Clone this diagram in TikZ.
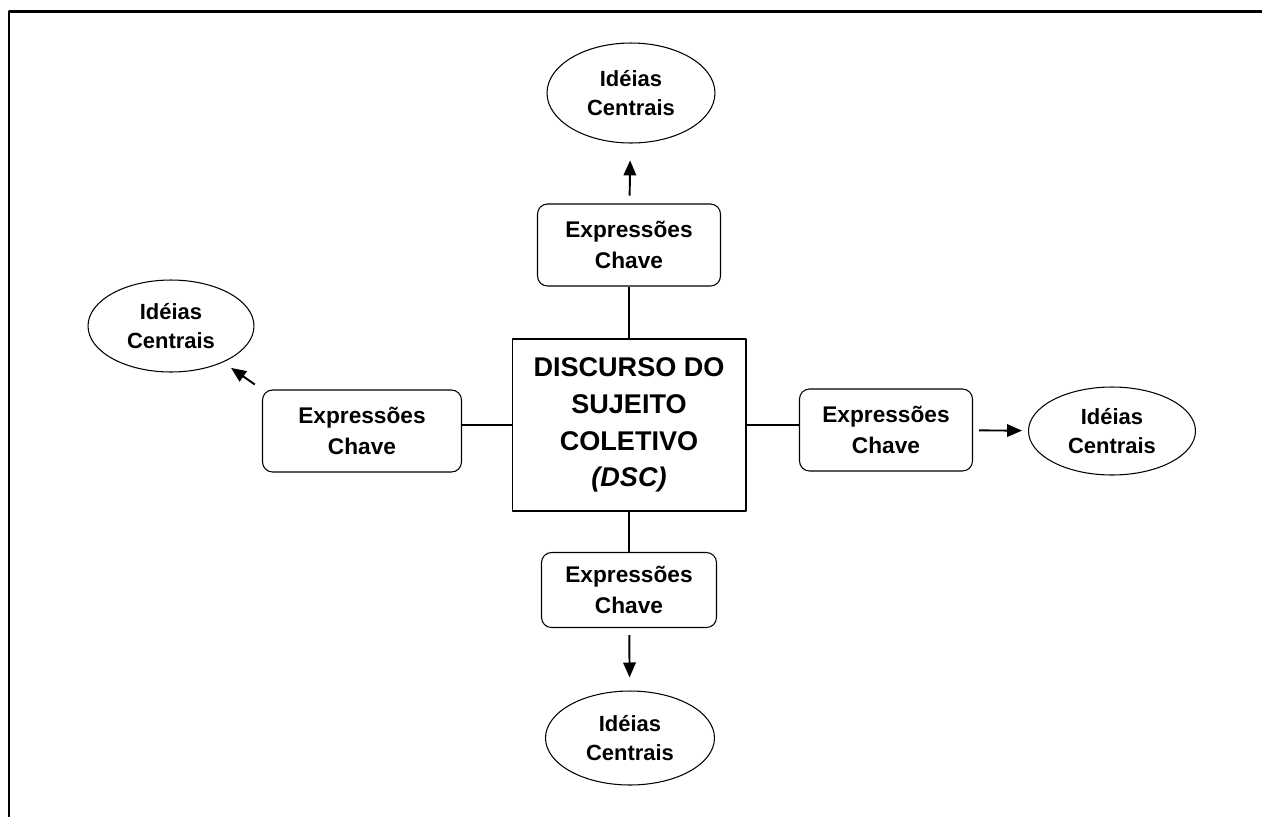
\documentclass[tikz,border=0pt]{standalone}
\usepackage{fontspec}
\setmainfont{Liberation Sans}
\usetikzlibrary{arrows.meta,shapes.geometric}

\begin{document}
\begin{tikzpicture}[x=0.02cm,y=-0.02cm,>={Triangle[length=3mm,width=2.5mm]},line join=round,
  ecbox/.style={draw,rounded corners=2mm,line width=0.6pt,align=center,inner sep=0pt,
    font=\bfseries\fontsize{12.9}{18}\selectfont,minimum height=1.64cm},
  icell/.style={draw,ellipse,line width=0.6pt,align=center,inner sep=0pt,
    font=\bfseries\fontsize{12.5}{16.5}\selectfont},
  link/.style={line width=0.6pt},
  arr/.style={->,line width=1.1pt,shorten <=4pt,shorten >=4pt}]
  \useasboundingbox (0,0) rectangle (1262,816);
  % frame, cut off at right and bottom
  \draw[line width=1.7pt] (9,840) -- (9,11) -- (1290,11);

  \node[draw,line width=0.6pt,minimum width=4.68cm,minimum height=3.44cm,align=center,
    font=\bfseries\fontsize{15.4}{21}\selectfont] (dsc) at (629,425)
    {DISCURSO DO\\SUJEITO\\COLETIVO\\\textit{(DSC)}};

  \node[ecbox,minimum width=3.66cm] (ecN) at (629,245) {Expressões\\Chave};
  \node[ecbox,minimum width=3.98cm] (ecW) at (362,431) {Expressões\\Chave};
  \node[ecbox,minimum width=3.46cm] (ecE) at (886,430) {Expressões\\Chave};
  \node[ecbox,minimum width=3.5cm,minimum height=1.5cm] (ecS) at (629,590) {Expressões\\Chave};

  \node[icell,minimum width=3.36cm,minimum height=2cm] (icN) at (631,93) {Idéias\\Centrais};
  \node[icell,minimum width=3.32cm,minimum height=1.84cm] (icW) at (171,326) {Idéias\\Centrais};
  \node[icell,minimum width=3.34cm,minimum height=1.76cm] (icE) at (1112,431) {Idéias\\Centrais};
  \node[icell,minimum width=3.38cm,minimum height=1.88cm] (icS) at (630,738) {Idéias\\Centrais};

  \draw[link] (dsc.north) -- (dsc.north |- ecN.south);
  \draw[link] (dsc.south) -- (dsc.south |- ecS.north);
  \draw[link] (dsc.west) -- (dsc.west -| ecW.east);
  \draw[link] (dsc.east) -- (dsc.east -| ecE.west);

  \draw[arr,shorten <=4.5pt,shorten >=9.6pt] (ecN) -- (icN);
  \draw[arr,shorten >=7.4pt] (ecS) -- (icS);
  \draw[arr,shorten <=3.5pt,shorten >=3.4pt] (ecE) -- (icE);
  \draw[arr,shorten <=5pt,shorten >=5.5pt] (ecW.north west) -- (icW);
\end{tikzpicture}
\end{document}
